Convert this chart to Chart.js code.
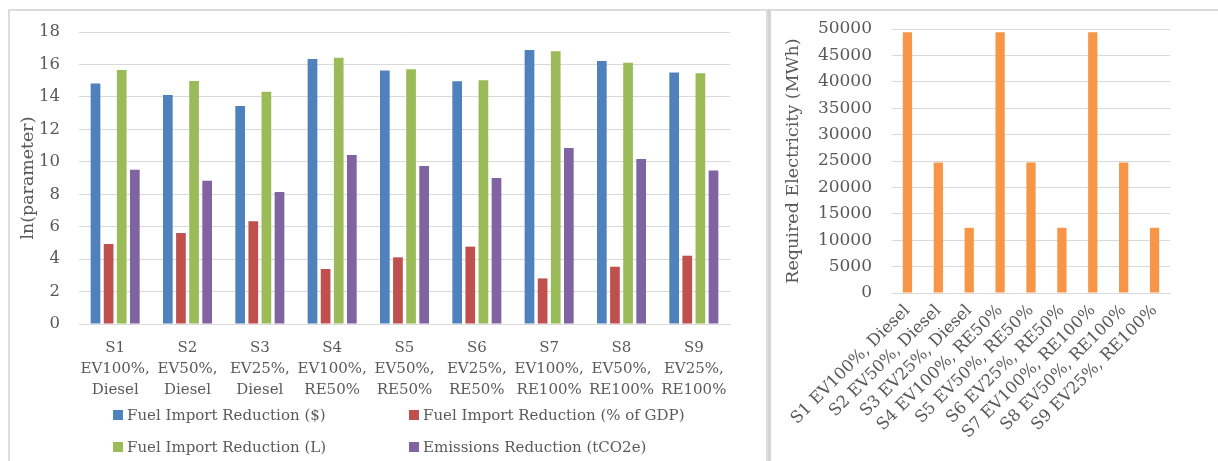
<!DOCTYPE html>
<html>
<head>
<meta charset="utf-8">
<script src="https://cdn.jsdelivr.net/npm/chart.js@4"></script>
<style>
  html, body { margin: 0; padding: 0; background: #ffffff; }
  body { width: 1218px; height: 461px; position: relative; overflow: hidden; font-family: "DejaVu Serif", serif; color: #595959; }
  .panel { position: absolute; box-sizing: border-box; }
  #leftPanel { left: 8px; top: 9px; width: 760px; height: 454px; border: 2px solid #dcdcdc; }
  #rightPanel { left: 768px; top: 9px; width: 452px; height: 454px; border-top: 2px solid #dcdcdc; border-left: 3px solid #d4d4d4; }
  #leftWrap { position: absolute; left: 10px; top: 11px; width: 755px; height: 450px; }
  #rightWrap { position: absolute; left: 770px; top: 11px; width: 448px; height: 450px; }
  #legend { position: absolute; left: 0; top: 0; }
  .item { position: absolute; display: flex; align-items: center; font-size: 15px; white-space: nowrap; color: #595959; }
  .swatch { width: 10px; height: 10px; margin-right: 4px; }
</style>
</head>
<body>
<div class="panel" id="leftPanel"></div>
<div class="panel" id="rightPanel"></div>
<div id="leftWrap"><canvas id="impactChart"></canvas></div>
<div id="rightWrap"><canvas id="electricityChart"></canvas></div>
<div id="legend"></div>
<script>
// Scenario labels
const scenarioLines = [
  ["S1", "EV100%,", "Diesel"],
  ["S2", "EV50%,", "Diesel"],
  ["S3", "EV25%,", "Diesel"],
  ["S4", "EV100%,", "RE50%"],
  ["S5", "EV50%,", "RE50%"],
  ["S6", "EV25%,", "RE50%"],
  ["S7", "EV100%,", "RE100%"],
  ["S8", "EV50%,", "RE100%"],
  ["S9", "EV25%,", "RE100%"]
];
const scenarioNames = [
  "S1 EV100%, Diesel", "S2 EV50%, Diesel", "S3 EV25%, Diesel",
  "S4 EV100%, RE50%", "S5 EV50%, RE50%", "S6 EV25%, RE50%",
  "S7 EV100%, RE100%", "S8 EV50%, RE100%", "S9 EV25%, RE100%"
];

// ln(parameter) values per scenario
const fuelImportUSD = [14.83, 14.12, 13.44, 16.34, 15.62, 14.96, 16.89, 16.21, 15.51];
const fuelImportGDP = [4.93, 5.61, 6.33, 3.39, 4.11, 4.77, 2.81, 3.53, 4.21];
const fuelImportL   = [15.66, 14.98, 14.32, 16.42, 15.70, 15.02, 16.81, 16.11, 15.45];
const emissionsCut  = [9.51, 8.83, 8.14, 10.42, 9.74, 9.00, 10.85, 10.17, 9.47];

// Required electricity (MWh)
const requiredMWh = [49400, 24700, 12350, 49400, 24700, 12350, 49400, 24700, 12350];

const seriesNames = [
  "Fuel Import Reduction ($)",
  "Fuel Import Reduction (% of GDP)",
  "Fuel Import Reduction (L)",
  "Emissions Reduction (tCO2e)"
];
const seriesColors = ["#4f81bd", "#c0504d", "#9bbb59", "#8064a2"];
const orange = "#f79646";

const textGray = "#595959";
const gridGray = "#d9d9d9";
const clear = "rgba(0,0,0,0)";
const serif = "'DejaVu Serif', serif";

Chart.defaults.font.family = serif;
Chart.defaults.color = textGray;

const impactSeries = [fuelImportUSD, fuelImportGDP, fuelImportL, emissionsCut];

new Chart(document.getElementById("impactChart"), {
  type: "bar",
  data: {
    labels: scenarioLines,
    datasets: impactSeries.map((vals, i) => ({
      label: seriesNames[i],
      data: vals,
      backgroundColor: seriesColors[i],
      barPercentage: 0.74,
      categoryPercentage: 0.725
    }))
  },
  options: {
    responsive: true,
    maintainAspectRatio: false,
    animation: false,
    layout: { padding: { top: 21, right: 35, bottom: 0, left: 0 } },
    plugins: { legend: { display: false }, tooltip: { enabled: false } },
    scales: {
      x: {
        grid: { display: false, drawTicks: false },
        border: { display: true, color: gridGray, width: 1 },
        ticks: { font: { size: 15, lineHeight: "21px" }, color: textGray, padding: 13.5, maxRotation: 0, autoSkip: false },
        afterFit: s => { s.height = 137; }
      },
      y: {
        min: 0, max: 18,
        ticks: { stepSize: 2, font: { size: 16.5 }, color: textGray, padding: 0 },
        grid: { color: gridGray, drawTicks: true, tickLength: 19, tickColor: clear },
        border: { display: false },
        title: { display: true, text: "ln(parameter)", font: { size: 17.4 }, color: textGray, padding: { top: 8, bottom: 0 } },
        afterFit: s => { s.width = 69; }
      }
    }
  }
});

new Chart(document.getElementById("electricityChart"), {
  type: "bar",
  data: {
    labels: scenarioNames,
    datasets: [{
      label: "Required Electricity (MWh)",
      data: requiredMWh,
      backgroundColor: orange,
      barPercentage: 0.6,
      categoryPercentage: 0.5
    }]
  },
  options: {
    responsive: true,
    maintainAspectRatio: false,
    animation: false,
    layout: { padding: { top: 18, right: 48, bottom: 0, left: 0 } },
    plugins: { legend: { display: false }, tooltip: { enabled: false } },
    scales: {
      x: {
        grid: { display: false, drawTicks: false },
        border: { display: true, color: gridGray, width: 1 },
        ticks: { font: { size: 16.5 }, color: textGray, padding: 8, minRotation: 45, maxRotation: 45, autoSkip: false },
        afterFit: s => { s.height = 168; }
      },
      y: {
        min: 0, max: 50000,
        ticks: { stepSize: 5000, font: { size: 17 }, color: textGray, padding: 0, callback: v => String(v) },
        grid: { color: gridGray, drawTicks: true, tickLength: 20, tickColor: clear },
        border: { display: false },
        title: { display: true, text: "Required Electricity (MWh)", font: { size: 17.5 }, color: textGray, padding: { top: 13, bottom: 0 } },
        afterFit: s => { s.width = 122; }
      }
    }
  }
});

// Two-column legend under the scenario chart
const legend = document.getElementById("legend");
const legendCols = [113, 409];
const legendRows = [415, 447];
seriesNames.forEach((name, i) => {
  const el = document.createElement("div");
  el.className = "item";
  el.style.left = legendCols[i % 2] + "px";
  el.style.top = (legendRows[Math.floor(i / 2)] - 10) + "px";
  el.style.height = "20px";
  const sw = document.createElement("span");
  sw.className = "swatch";
  sw.style.background = seriesColors[i];
  const tx = document.createElement("span");
  tx.textContent = name;
  el.appendChild(sw);
  el.appendChild(tx);
  legend.appendChild(el);
});
</script>
</body>
</html>
